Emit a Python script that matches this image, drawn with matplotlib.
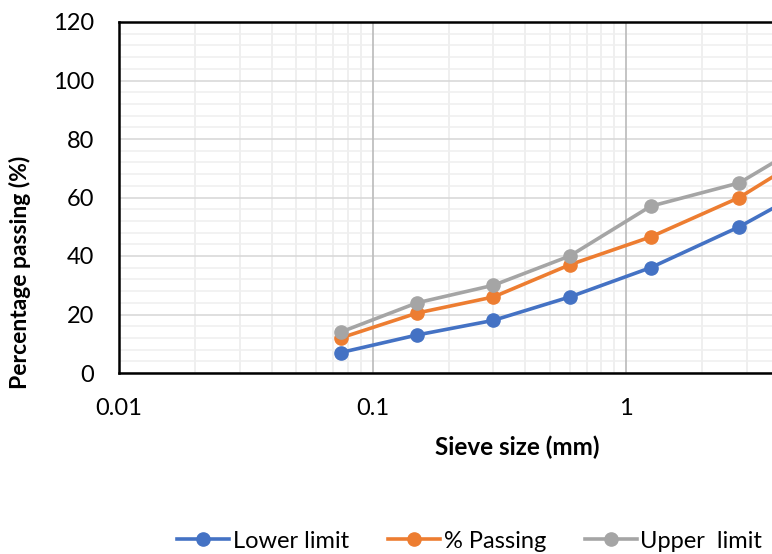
import matplotlib
matplotlib.use("Agg")
import matplotlib.pyplot as plt
from matplotlib.ticker import FixedLocator, NullFormatter

plt.rcParams['font.family'] = ['Lato', 'DejaVu Sans']

# sieve sizes (mm) and percentages passing
sieve = [0.075, 0.15, 0.3, 0.6, 1.25, 2.8, 5.0]
lower = [7, 13, 18, 26, 36, 50, 62]
passing = [12, 20.5, 26, 37, 46.5, 60, 73.5]
upper = [14, 24, 30, 40, 57, 65, 78]

labels = ["Lower limit", "% Passing", "Upper  limit"]
colors = ["#4472C4", "#ED7D31", "#A5A5A5"]

fig = plt.figure(figsize=(7.72, 5.54), dpi=100)
# one decade is ~253.5 px; axes runs 0.01..100, right part cut off like the source
ax = fig.add_axes([119 / 772, (554 - 373) / 554, 4 * 253.5 / 772, 351 / 554])

for y, c, lab in zip([lower, passing, upper], colors, labels):
    ax.plot(sieve, y, color=c, lw=2.6, marker='o', ms=9.5, label=lab, zorder=3)

ax.set_xscale('log')
ax.set_xlim(0.01, 100)
ax.set_ylim(0, 120)
ax.set_yticks(range(0, 121, 20))
ax.yaxis.set_minor_locator(FixedLocator(range(0, 121, 4)))
ax.set_xticks([0.01, 0.1, 1])
ax.set_xticklabels(["0.01", "0.1", "1"])
ax.xaxis.set_minor_formatter(NullFormatter())

ax.grid(which='major', axis='y', color='#d9d9d9', lw=1.2)
ax.grid(which='minor', axis='y', color='#f0f0f0', lw=1.2)
ax.grid(which='minor', axis='x', color='#ececec', lw=1.2)
for d in [0.1, 1, 10]:
    ax.axvline(d, color='#bfbfbf', lw=1.3, zorder=1)
ax.set_axisbelow(True)

ax.tick_params(which='both', length=0, labelsize=17, pad=18, colors='black')
ax.tick_params(axis='x', pad=18)
for s in ax.spines.values():
    s.set_color('black')
    s.set_linewidth(1.8)

fig.text(20 / 772, 1 - 272 / 554, "Percentage passing (%)", fontsize=16.5,
         fontweight='bold', rotation=90, ha='center', va='center')
fig.text(517 / 772, 1 - 447 / 554, "Sieve size (mm)", fontsize=17.5, fontweight='bold',
         ha='center', va='center')

fig.legend(loc='center left', bbox_to_anchor=(168 / 772, 1 - 541 / 554), ncol=3,
           frameon=False, fontsize=17, handlelength=2.2, columnspacing=1.65,
           handletextpad=0.15, borderaxespad=0)

fig.savefig("out.png", dpi=100)
